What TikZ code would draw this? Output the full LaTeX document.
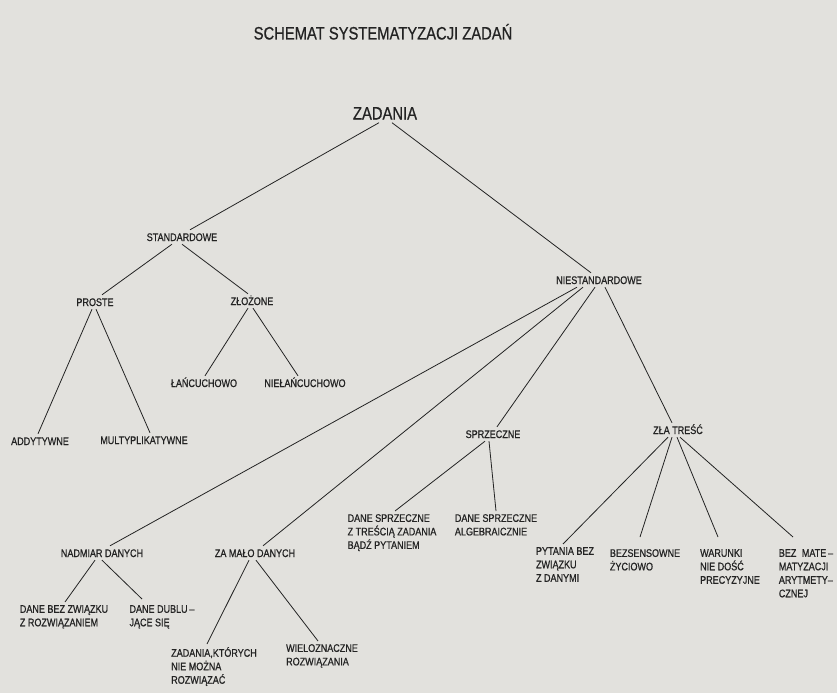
\documentclass[tikz,border=0pt]{standalone}
\usepackage{fontspec}
\setmainfont{Liberation Sans}[FakeStretch=0.82,FakeBold=0.7]
\definecolor{paper}{RGB}{226,225,221}
\definecolor{ink}{RGB}{35,35,35}
\begin{document}
\begin{tikzpicture}[x=1pt,y=-1pt,
  every node/.style={text=ink,inner sep=3pt},
  lbl/.style={font=\fontsize{11}{13.5}\selectfont,text height=8pt,text depth=0pt},
  blk/.style={font=\fontsize{11}{13.5}\selectfont,anchor=north,align=left},
  big/.style={font=\fontsize{18}{20}\selectfont,text height=13pt,text depth=0pt},
  edge/.style={draw=ink,line width=0.8pt}]
\fill[paper] (0,0) rectangle (837,693);
\useasboundingbox (0,0) rectangle (837,693);

\node[big] (title) at (383,33) {SCHEMAT SYSTEMATYZACJI ZADAŃ};
\node[big] (zad) at (385,113) {ZADANIA};

\node[lbl] (std) at (182,237) {STANDARDOWE};
\node[lbl] (nst) at (599,280) {NIESTANDARDOWE};
\node[lbl] (pro) at (95,302) {PROSTE};
\node[lbl] (zlo) at (252,301) {ZŁOŻONE};
\node[lbl] (lan) at (204,383) {ŁAŃCUCHOWO};
\node[lbl] (nlan) at (305,383) {NIEŁAŃCUCHOWO};
\node[lbl] (add) at (40,441) {ADDYTYWNE};
\node[lbl] (mul) at (144,440) {MULTYPLIKATYWNE};
\node[lbl] (nad) at (102,553) {NADMIAR DANYCH};
\node[lbl] (zam) at (255,553) {ZA MAŁO DANYCH};
\node[lbl] (spr) at (493,434) {SPRZECZNE};
\node[lbl] (zla) at (678,430) {ZŁA TREŚĆ};

\node[blk] (sp1) at (392,511) {DANE SPRZECZNE\\Z TREŚCIĄ ZADANIA\\BĄDŹ PYTANIEM};
\node[blk] (sp2) at (496,511) {DANE SPRZECZNE\\ALGEBRAICZNIE};
\node[blk] (zt1) at (565,544) {PYTANIA BEZ\\ZWIĄZKU\\Z DANYMI};
\node[blk] (zt2) at (645,546) {BEZSENSOWNE\\ŻYCIOWO};
\node[blk] (zt3) at (730,546) {WARUNKI\\NIE DOŚĆ\\PRECYZYJNE};
\node[blk] (zt4) at (806,546) {BEZ\enspace MATE\,–\\MATYZACJI\\ARYTMETY–\\CZNEJ};
\node[blk] (nd1) at (64,602) {DANE BEZ ZWIĄZKU\\Z ROZWIĄZANIEM};
\node[blk] (nd2) at (162,602) {DANE DUBLU\,–\\JĄCE SIĘ};
\node[blk] (zm1) at (214,644) {ZADANIA,KTÓRYCH\\NIE MOŻNA\\ROZWIĄZAĆ};
\node[blk] (zm2) at (322,641) {WIELOZNACZNE\\ROZWIĄZANIA};

\draw[edge] ([xshift=-6pt]zad.south) -- ([xshift=8pt]std.north);
\draw[edge] ([xshift=7pt]zad.south) -- ([xshift=-8pt]nst.north);
\draw[edge] ([xshift=-10pt]std.south) -- ([xshift=7pt]pro.north);
\draw[edge] (std.south) -- ([xshift=-4pt]zlo.north);
\draw[edge] ([xshift=-3pt]pro.south) -- ([xshift=-2pt]add.north);
\draw[edge] ([xshift=1pt]pro.south) -- ([xshift=6pt]mul.north);
\draw[edge] ([xshift=-4pt]zlo.south) -- ([xshift=1pt]lan.north);
\draw[edge] ([xshift=1pt]zlo.south) -- ([xshift=-7pt]nlan.north);
\draw[edge] ([xshift=-22pt]nst.south) -- ([xshift=8pt]nad.north);
\draw[edge] ([xshift=-16pt]nst.south) -- ([xshift=8pt]zam.north);
\draw[edge] ([xshift=-4pt]nst.south) -- ([xshift=4pt]spr.north);
\draw[edge] ([xshift=6pt]nst.south) -- ([xshift=-6pt]zla.north);
\draw[edge] ([xshift=-8pt]spr.south) -- ([xshift=3pt]sp1.north);
\draw[edge] ([xshift=-4pt]spr.south) -- (sp2.north);
\draw[edge] ([xshift=-10pt]zla.south) -- ([xshift=-2pt]zt1.north);
\draw[edge] ([xshift=-6pt]zla.south) -- ([xshift=-5pt,yshift=9pt]zt2.north);
\draw[edge] ([xshift=-1pt]zla.south) -- ([xshift=-12pt,yshift=9pt]zt3.north);
\draw[edge] ([xshift=2pt]zla.south) -- ([xshift=-13pt,yshift=9pt]zt4.north);
\draw[edge] ([xshift=-7pt]nad.south) -- ([xshift=1pt]nd1.north);
\draw[edge] (nad.south) -- ([xshift=-20pt,yshift=3pt]nd2.north);
\draw[edge] ([xshift=-6pt]zam.south) -- ([xshift=-7pt]zm1.north);
\draw[edge] ([xshift=1pt]zam.south) -- ([xshift=-4pt]zm2.north);
\end{tikzpicture}
\end{document}
